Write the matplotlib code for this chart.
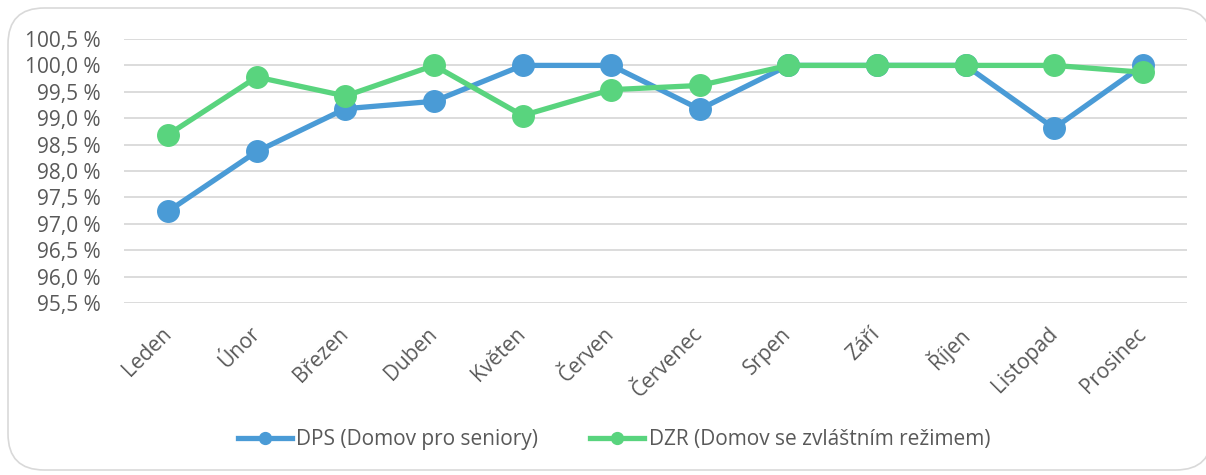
import matplotlib
matplotlib.use("Agg")
import matplotlib.pyplot as plt
from matplotlib.patches import FancyBboxPatch
from matplotlib.ticker import FuncFormatter, MultipleLocator

months = ["Leden", "Únor", "Březen", "Duben", "Květen", "Červen", "Červenec",
          "Srpen", "Září", "Říjen", "Listopad", "Prosinec"]
dps = [97.24, 98.37, 99.18, 99.32, 100.0, 100.0, 99.17, 100.0, 100.0, 100.0, 98.81, 100.0]
dzr = [98.69, 99.78, 99.42, 100.0, 99.05, 99.54, 99.62, 100.0, 100.0, 100.0, 100.0, 99.87]
series_names = ["DPS (Domov pro seniory)", "DZR (Domov se zvláštním režimem)"]

plt.rcParams['font.family'] = ['Open Sans', 'DejaVu Sans']
TXT = "#595959"
BLUE = "#4A9BD6"
GREEN = "#59D47E"

fig = plt.figure(figsize=(12.06, 4.75), dpi=100)
fig.patch.set_facecolor("white")
border = FancyBboxPatch((8 / 1206, 5 / 475), (1212 - 8) / 1206, (462) / 475,
                        boxstyle="round,pad=0,rounding_size=0.03",
                        transform=fig.transFigure, facecolor="white",
                        edgecolor="#D9D9D9", linewidth=1.2, mutation_aspect=1206/475,
                        zorder=-10)
fig.patches.append(border)

ax = fig.add_axes([124 / 1206, 1 - 303 / 475, (1187 - 124) / 1206, (303 - 39) / 475])
ax.set_zorder(5)
ax.set_facecolor("none")
x = list(range(len(months)))
ax.plot(x, dps, color=BLUE, lw=3.8, marker='o', ms=15.5, label=series_names[0], zorder=3)
ax.plot(x, dzr, color=GREEN, lw=3.8, marker='o', ms=15.5, label=series_names[1], zorder=4)

ax.set_xlim(-0.5, len(months) - 0.5)
ax.set_ylim(95.5, 100.5)
ax.yaxis.set_major_locator(MultipleLocator(0.5))
ax.yaxis.set_major_formatter(FuncFormatter(lambda v, p: f"{v:.1f}".replace('.', ',') + " %"))
ax.grid(axis='y', color="#D9D9D9", lw=1.3, zorder=0)
for s in ax.spines.values():
    s.set_visible(False)
ax.tick_params(axis='both', length=0, colors=TXT, labelsize=15)
ax.tick_params(axis='y', pad=17)
ax.set_xticks(x)
ax.set_xticklabels(months, rotation=45, ha='right', va='center', rotation_mode='anchor')
ax.tick_params(axis='x', pad=20)

leg = fig.legend(loc='center', bbox_to_anchor=(614 / 1206, 1 - 440 / 475), ncol=2, frameon=False,
                 fontsize=15, labelcolor=TXT, handlelength=2.6, handletextpad=0.2,
                 columnspacing=2.5, markerscale=0.55)
fig.savefig("out.png", dpi=100, facecolor="white")
